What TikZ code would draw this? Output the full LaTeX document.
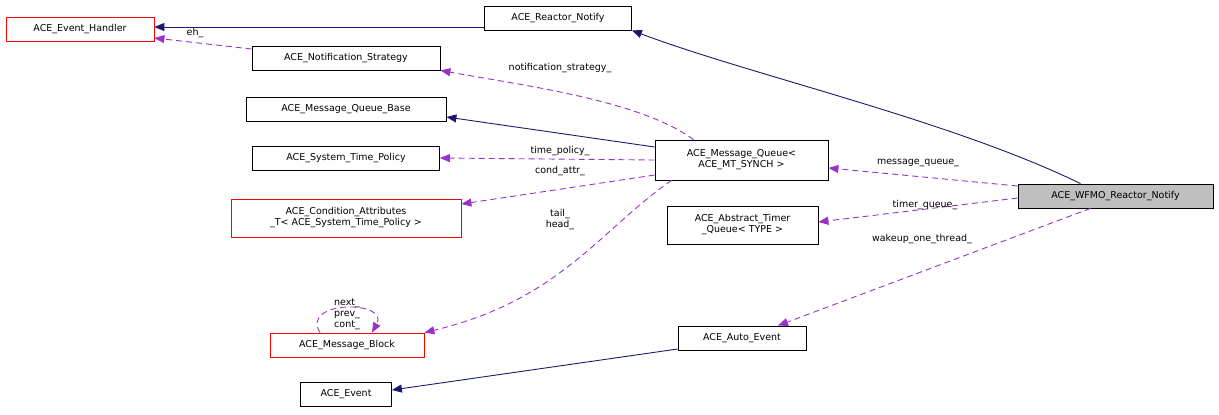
\documentclass[tikz,border=0pt]{standalone}
\usepackage{fontspec}
\setmainfont{DejaVu Sans}
\usetikzlibrary{arrows.meta}
\definecolor{inherit}{RGB}{25,25,112}
\definecolor{usage}{RGB}{153,50,204}
\tikzset{
  cls/.style={draw=black, fill=white, line width=0.8pt, inner sep=1pt, minimum height=24pt, align=center, font=\fontsize{9.5}{11}\selectfont},
  red cls/.style={cls, draw=red},
  isa/.style={draw=inherit, line width=0.9pt, -{Triangle[length=10pt,width=8pt]}},
  uses/.style={draw=usage, line width=0.9pt, dashed, dash pattern=on 6pt off 4pt, -{Triangle[length=10pt,width=8pt]}},
  lbl/.style={font=\fontsize{9.5}{11}\selectfont, inner sep=0pt}
}
\begin{document}
\begin{tikzpicture}[x=1pt, y=-1pt]
  \useasboundingbox (0,0) rectangle (1219,415);
  % classes
  \node[red cls, minimum width=148pt] (handler) at (80,29.5) {ACE\_Event\_Handler};
  \node[cls, minimum width=147pt] (reactor) at (558,18) {ACE\_Reactor\_Notify};
  \node[cls, minimum width=188pt] (strategy) at (346,58) {ACE\_Notification\_Strategy};
  \node[cls, minimum width=200pt] (mqbase) at (346,109) {ACE\_Message\_Queue\_Base};
  \node[cls, minimum width=187pt] (timepolicy) at (346,158) {ACE\_System\_Time\_Policy};
  \node[red cls, minimum width=230pt, minimum height=38pt] (condattr) at (346,218) {ACE\_Condition\_Attributes\\\_T< ACE\_System\_Time\_Policy >};
  \node[red cls, minimum width=154pt] (block) at (347,345) {ACE\_Message\_Block};
  \node[cls, minimum width=91pt] (event) at (346,394) {ACE\_Event};
  \node[cls, minimum width=173pt, minimum height=40pt] (mq) at (741.5,160) {ACE\_Message\_Queue<\\ACE\_MT\_SYNCH >};
  \node[cls, minimum width=151pt, minimum height=38pt] (timerq) at (742.5,225) {ACE\_Abstract\_Timer\\\_Queue< TYPE >};
  \node[cls, minimum width=128pt] (auto) at (742,338) {ACE\_Auto\_Event};
  \node[cls, fill=black!25, minimum width=195pt] (wfmo) at (1115.5,196) {ACE\_WFMO\_Reactor\_Notify};

  % inheritance
  \draw[isa] (reactor.west |- 0,27) -- (handler.east |- 0,27);
  \draw[isa] (wfmo.north) ++(-35,0) .. controls (950,120) and (750,75) .. (reactor.south east);
  \draw[isa] (mq.west |- 0,147) -- (mqbase.east |- 0,117);
  \draw[isa] (auto.west |- 0,349) -- (event.east |- 0,390);

  % usage
  \draw[uses] (strategy.west |- 0,49) -- (handler.east |- 0,38);
  \draw[uses] (mq.north) ++(-48,0) .. controls (640,100) and (520,85) .. (strategy.south east);
  \draw[uses] (mq.west) -- (timepolicy.east);
  \draw[uses] (mq.west |- 0,175) -- (condattr.east |- 0,204);
  \draw[uses] (mq.south) ++(-70,0) .. controls (600,230) and (560,300) .. (block.north east);
  \draw[uses] (block.north) ++(-27,0) .. controls (300,300) and (390,300) .. ([xshift=25pt]block.north);
  \draw[uses] (wfmo.west |- 0,186) -- (mq.east |- 0,168);
  \draw[uses] (wfmo.west |- 0,198) -- (timerq.east |- 0,222);
  \draw[uses] (wfmo.south) ++(-25,0) -- ([xshift=36pt]auto.north);

  % labels
  \node[lbl] (eh) at (195,33) {eh\_};
  \node[lbl] (lnotif) at (560,68) {notification\_strategy\_};
  \node[lbl] (ltime) at (560,151) {time\_policy\_};
  \node[lbl] (lcond) at (560,171) {cond\_attr\_};
  \node[lbl, align=center] (lqueue) at (560,220) {tail\_\\head\_};
  \node[lbl, align=center] (lblock) at (347,314) {next\_\\prev\_\\cont\_};
  \node[lbl] (lmq) at (918,163) {message\_queue\_};
  \node[lbl] (ltimer) at (925,205) {timer\_queue\_};
  \node[lbl] (lwake) at (922,239) {wakeup\_one\_thread\_};
\end{tikzpicture}
\end{document}
